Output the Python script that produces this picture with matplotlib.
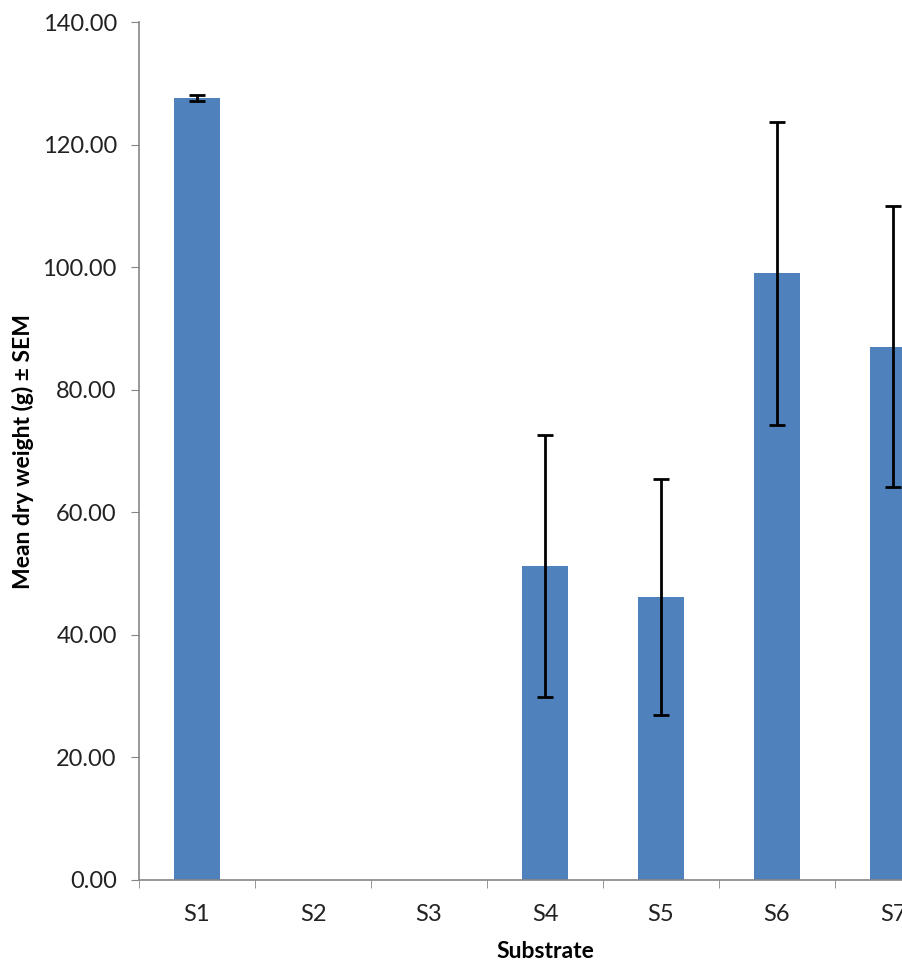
import matplotlib
matplotlib.use("Agg")
import matplotlib.pyplot as plt
import numpy as np

# ── data ──────────────────────────────────────────────────────────────────────

substrates = ["S1", "S2", "S3", "S4", "S5", "S6", "S7"]
mean_dw    = [127.6, 0.0, 0.0, 51.2, 46.2, 99.0, 87.0]
sem_dw     = [0.5, 0.0, 0.0, 21.4, 19.3, 24.7, 22.9]

BLUE  = "#4F81BD"
AXIS  = "#868686"
FONT  = ["Lato", "DejaVu Sans"]

plt.rcParams["font.family"] = FONT

fig = plt.figure(figsize=(9.03, 9.63), dpi=100)
# axis runs past the right edge of the figure, as in the cropped original
ax = fig.add_axes([139 / 903, 1 - 880 / 963, (951 - 139) / 903, (880 - 22) / 963])

x = np.arange(len(substrates))
has_err = [s > 0 for s in sem_dw]
ax.bar(x, mean_dw, width=0.4, color=BLUE, zorder=2)
ax.errorbar(x[has_err], np.array(mean_dw)[has_err], yerr=np.array(sem_dw)[has_err],
            fmt="none", ecolor="black", elinewidth=2, capsize=6, capthick=2, zorder=3)

ax.set_xlim(-0.5, len(substrates) - 0.5)
ax.set_ylim(0, 140)
ax.set_yticks(np.arange(0, 141, 20))
ax.set_yticklabels([f"{v:.2f}" for v in np.arange(0, 141, 20)], fontsize=17, color="#222222")

ax.set_xticks(x)
ax.set_xticklabels(substrates, fontsize=17, color="#222222")
ax.set_xticks(np.arange(-0.5, len(substrates) + 0.5, 1), minor=True)
ax.tick_params(axis="x", which="major", length=0, pad=17)
ax.tick_params(axis="x", which="minor", length=6, color=AXIS, direction="out")
ax.tick_params(axis="y", length=6, color=AXIS, direction="out", pad=10)

for side in ["top", "right"]:
    ax.spines[side].set_visible(False)
for side in ["left", "bottom"]:
    ax.spines[side].set_color(AXIS)
    ax.spines[side].set_linewidth(1.2)

ax.set_xlabel("Substrate", fontsize=16.5, fontweight="bold", labelpad=12)
ax.set_ylabel("Mean dry weight (g) ± SEM", fontsize=16.5, fontweight="bold", labelpad=6)

fig.savefig("out.png", dpi=100)
